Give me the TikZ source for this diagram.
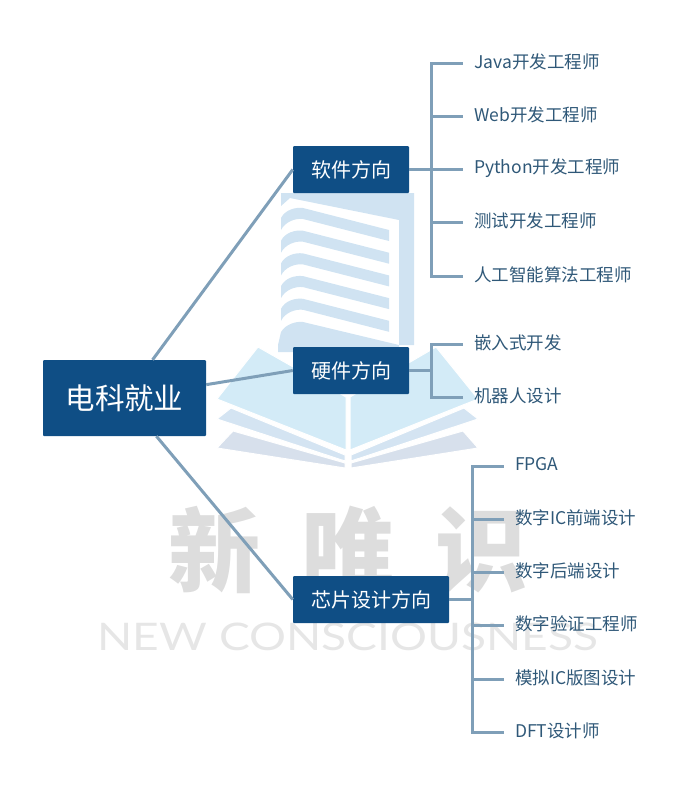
\documentclass[tikz,border=0pt]{standalone}
\usepackage{fontspec}
\setmainfont{Noto Sans CJK SC}
\newfontfamily\latinmark{Lato}
\usetikzlibrary{positioning, calc}
\definecolor{boxblue}{HTML}{0F4E85}
\definecolor{linkblue}{HTML}{7F9FB8}
\definecolor{leaftext}{HTML}{2F5878}
\definecolor{buildblue}{HTML}{D0E3F2}
\definecolor{pageone}{HTML}{D3EBF7}
\definecolor{pagetwo}{HTML}{D4E4F2}
\definecolor{pagethree}{HTML}{D7E0EC}
\definecolor{markgray}{HTML}{DDDDDD}
\definecolor{marklight}{HTML}{E6E6E6}
\tikzset{
    rootbox/.style={fill=boxblue, text=white, rounded corners=1pt, inner sep=0pt, minimum width=163pt, minimum height=76pt, font=\fontsize{29.5}{32}\selectfont},
    dirbox/.style={fill=boxblue, text=white, rounded corners=1pt, inner sep=0pt, minimum width=116pt, minimum height=47pt, font=\fontsize{20}{24}\selectfont},
    leaf/.style={anchor=west, text=leaftext, inner xsep=11pt, inner ysep=0pt, font=\fontsize{17.5}{20}\selectfont},
    link/.style={draw=linkblue, line width=3pt},
    mainlink/.style={draw=linkblue, line width=3pt},
}
% one curved floor of the building
\newcommand{\floorband}[1]{\fill[buildblue, yshift=#1] (281,230) -- (281,218) .. controls (285,210) and (295,207) .. (303,208) -- (389,230) -- (389,241) -- (303,219) .. controls (295,218) and (285,222) .. (281,230) -- cycle;}
\begin{document}
\begin{tikzpicture}[x=1pt, y=-1pt]
    \useasboundingbox (0,0) rectangle (693,796);

    % Building behind the boxes
    \fill[buildblue] (281,193) -- (414,193) -- (414,345) -- (399,345) -- (399,220) -- (290,198) -- (281,206) -- cycle;
    \floorband{0pt}
    \floorband{-22.7pt}
    \floorband{-45.4pt}
    \floorband{-68.1pt}
    \floorband{-90.8pt}
    \fill[buildblue] (278,345) -- (281,332) .. controls (285,325) and (295,321) .. (303,322) -- (399,345) -- (399,352) -- (278,352) -- cycle;

    % Open book
    \filldraw[fill=pageone, draw=white, line width=1pt] (258,347) -- (346,397) -- (346,450) -- (217,399) -- cycle;
    \filldraw[fill=pageone, draw=white, line width=1pt] (436,347) -- (350,397) -- (350,450) -- (478,399) -- cycle;
    \filldraw[fill=pagetwo, draw=white, line width=1pt] (231,408) -- (345,455) -- (345,461) -- (217,419) -- cycle;
    \filldraw[fill=pagetwo, draw=white, line width=1pt] (464,408) -- (351,455) -- (351,461) -- (478,419) -- cycle;
    \filldraw[fill=pagethree, draw=white, line width=1pt] (233,431) -- (345,463) -- (345,468) -- (217,448) -- cycle;
    \filldraw[fill=pagethree, draw=white, line width=1pt] (463,431) -- (351,463) -- (351,468) -- (478,448) -- cycle;

    % Watermark text
    \node[text=markgray, inner sep=0pt, font=\fontsize{92}{96}\selectfont\bfseries] (markxin) at (214,550) {新};
    \node[text=markgray, inner sep=0pt, font=\fontsize{92}{96}\selectfont\bfseries] (markwei) at (348,550) {唯};
    \node[text=markgray, inner sep=0pt, font=\fontsize{92}{96}\selectfont\bfseries] (markshi) at (481,550) {识};
    \node[text=marklight, inner sep=0pt, font=\fontsize{38}{40}\selectfont\latinmark] (markname) at (348,637) {\scalebox{1.215}[1]{NEW CONSCIOUSNESS}};

    % Root and the three direction boxes
    \node[rootbox] (root) at (124.5,398) {电科就业};
    \node[dirbox] (soft) at (351,169.5) {软件方向};
    \node[dirbox] (hard) at (351,370.5) {硬件方向};
    \node[dirbox, minimum width=156pt] (chip) at (371,599.5) {芯片设计方向};

    % Root to directions
    \draw[mainlink] (root) -- (soft.west);
    \draw[mainlink] (root) -- (hard.west);
    \draw[mainlink] (root) -- (chip.west);

    % Software leaves
    \node[leaf] (java) at (463,62) {Java开发工程师};
    \node[leaf] (web) at (463,115) {Web开发工程师};
    \node[leaf] (python) at (463,168) {Python开发工程师};
    \node[leaf] (test) at (463,221) {测试开发工程师};
    \node[leaf] (algo) at (463,275) {人工智能算法工程师};
    \coordinate (softbar) at (431,169.5);
    \draw[link] (soft.east) -- (softbar);
    \draw[link] (softbar) |- ($(java.west)+(0,1.5)$);
    \draw[link] (softbar) |- ($(web.west)+(0,1.5)$);
    \draw[link] (softbar) -- ($(python.west)+(0,1.5)$);
    \draw[link] (softbar) |- ($(test.west)+(0,1.5)$);
    \draw[link] (softbar) |- ($(algo.west)+(0,1.5)$);

    % Hardware leaves
    \node[leaf] (embed) at (463,343) {嵌入式开发};
    \node[leaf] (robot) at (463,396) {机器人设计};
    \coordinate (hardbar) at (431,370.5);
    \draw[link] (hard.east) -- (hardbar);
    \draw[link] (hardbar) |- ($(embed.west)+(0,1.5)$);
    \draw[link] (hardbar) |- ($(robot.west)+(0,1.5)$);

    % Chip design leaves
    \node[leaf] (fpga) at (504,464.5) {FPGA};
    \node[leaf] (front) at (504,518) {数字IC前端设计};
    \node[leaf] (back) at (504,571) {数字后端设计};
    \node[leaf] (verify) at (504,624) {数字验证工程师};
    \node[leaf] (analog) at (504,678) {模拟IC版图设计};
    \node[leaf] (dft) at (504,731) {DFT设计师};
    \coordinate (chipbar) at (472,599.5);
    \draw[link] (chip.east) -- (chipbar);
    \draw[link] (chipbar) |- ($(fpga.west)+(0,1.5)$);
    \draw[link] (chipbar) |- ($(front.west)+(0,1.5)$);
    \draw[link] (chipbar) |- ($(back.west)+(0,1.5)$);
    \draw[link] (chipbar) |- ($(verify.west)+(0,1.5)$);
    \draw[link] (chipbar) |- ($(analog.west)+(0,1.5)$);
    \draw[link] (chipbar) |- ($(dft.west)+(0,1.5)$);
\end{tikzpicture}
\end{document}
